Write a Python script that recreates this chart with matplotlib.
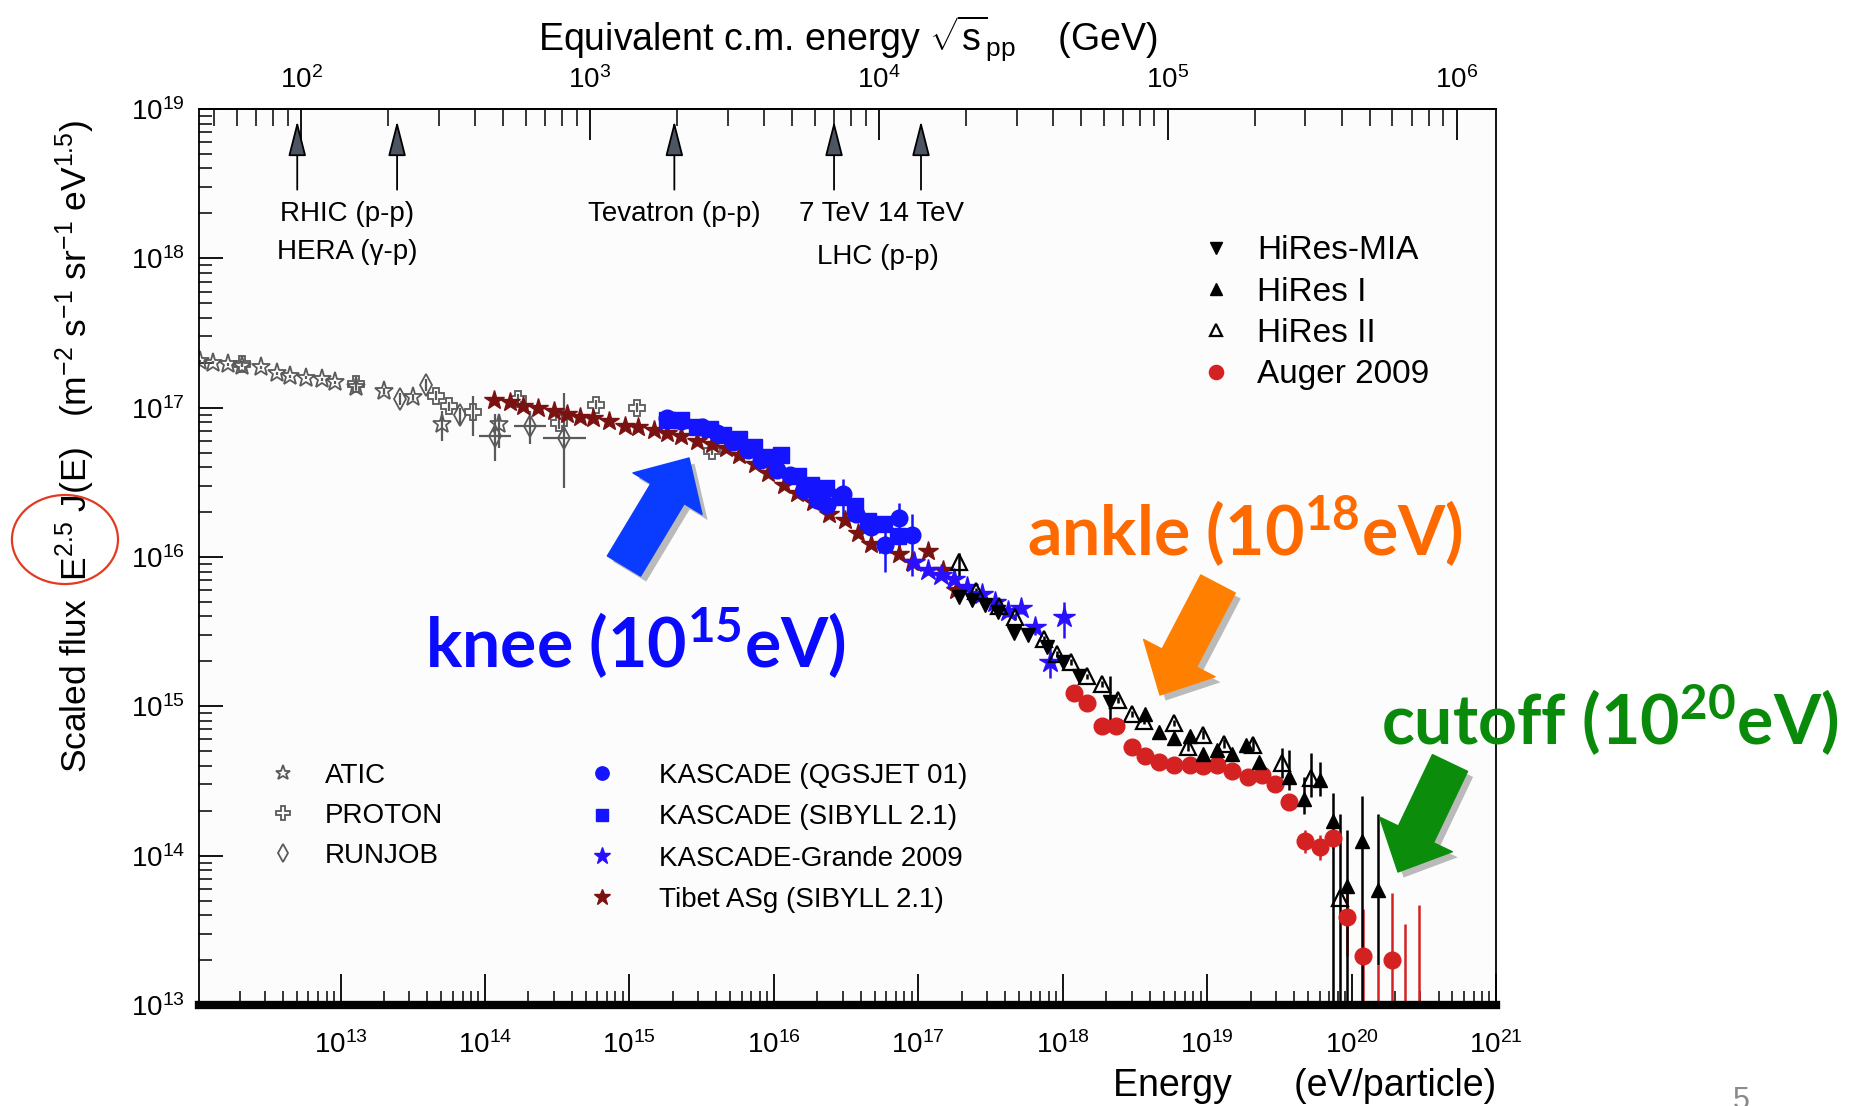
import numpy as np
import matplotlib
matplotlib.use("Agg")
import matplotlib.pyplot as plt
import matplotlib.patheffects as pe
from matplotlib.patches import Ellipse
from matplotlib.ticker import LogLocator, NullFormatter

plt.rcParams['font.family'] = ['Liberation Sans', 'DejaVu Sans']
plt.rcParams['mathtext.fontset'] = 'custom'
plt.rcParams['mathtext.rm'] = 'Liberation Sans'
plt.rcParams['mathtext.it'] = 'Liberation Sans:italic'
plt.rcParams['mathtext.bf'] = 'Liberation Sans:bold'

# ---- data: log10(E / eV) and log10(scaled flux), errors in dex ----
atic_logE = [12.03, 12.12, 12.22, 12.32, 12.45, 12.56, 12.65, 12.76, 12.87, 12.96, 13.11, 13.30, 13.50, 13.70, 14.10]
atic_logF = [17.31, 17.30, 17.29, 17.28, 17.27, 17.23, 17.21, 17.20, 17.19, 17.17, 17.14, 17.11, 17.07, 16.89, 16.89]
atic_dhi = [0.01, 0.01, 0.01, 0.01, 0.01, 0.01, 0.01, 0.01, 0.01, 0.01, 0.02, 0.02, 0.02, 0.09, 0.07]
atic_dlo = [0.01, 0.01, 0.01, 0.01, 0.01, 0.01, 0.01, 0.01, 0.01, 0.01, 0.02, 0.02, 0.02, 0.11, 0.16]

proton_logE = [12.32, 13.11, 13.66, 13.75, 13.92, 14.23, 14.51, 14.77, 15.05, 15.57]
proton_logF = [17.29, 17.16, 17.08, 17.01, 16.97, 17.06, 16.90, 17.02, 17.00, 16.71]
proton_dhi = [0.02, 0.02, 0.03, 0.03, 0.11, 0.03, 0.04, 0.03, 0.03, 0.03]
proton_dlo = [0.02, 0.02, 0.03, 0.03, 0.16, 0.03, 0.04, 0.03, 0.03, 0.03]

runjob_logE = [13.41, 13.59, 13.83, 14.07, 14.31, 14.55]
runjob_logF = [17.06, 17.15, 16.95, 16.81, 16.88, 16.80]
runjob_dhi = [0.04, 0.04, 0.05, 0.15, 0.10, 0.30]
runjob_dlo = [0.04, 0.04, 0.06, 0.17, 0.12, 0.34]
runjob_dE = [0.0, 0.0, 0.0, 0.11, 0.11, 0.15]

tibet_logE = [14.06, 14.17, 14.26, 14.37, 14.48, 14.57, 14.66, 14.75, 14.86, 14.97, 15.06,
              15.17, 15.26, 15.36, 15.47, 15.57, 15.67, 15.76, 15.87, 15.96, 16.07, 16.16,
              16.27, 16.38, 16.49, 16.58, 16.67, 16.77, 16.87, 16.96, 17.07, 17.17, 17.26]
tibet_logF = [17.05, 17.04, 17.01, 17.00, 16.98, 16.96, 16.94, 16.93, 16.91, 16.88, 16.87,
              16.85, 16.83, 16.81, 16.78, 16.76, 16.73, 16.68, 16.62, 16.56, 16.48, 16.43,
              16.37, 16.29, 16.25, 16.16, 16.09, 16.08, 16.02, 15.97, 16.04, 15.91, 15.78]

kq_logE = [15.26, 15.36, 15.50, 15.61, 15.72, 15.82, 15.91, 16.02, 16.11, 16.21, 16.30,
           16.37, 16.48, 16.57, 16.67, 16.77, 16.87, 16.96]
kq_logF = [16.93, 16.91, 16.87, 16.83, 16.77, 16.72, 16.65, 16.58, 16.55, 16.45, 16.38,
           16.35, 16.42, 16.29, 16.20, 16.08, 16.26, 16.15]
kq_dhi = [0.02, 0.02, 0.02, 0.02, 0.02, 0.02, 0.03, 0.03, 0.03, 0.04, 0.04,
          0.05, 0.10, 0.05, 0.06, 0.12, 0.10, 0.14]
kq_dlo = [0.02, 0.02, 0.02, 0.02, 0.02, 0.02, 0.03, 0.03, 0.03, 0.04, 0.04,
          0.05, 0.17, 0.05, 0.06, 0.18, 0.26, 0.28]

ks_logE = [15.26, 15.36, 15.47, 15.56, 15.65, 15.76, 15.86, 15.96, 16.05, 16.17, 16.26,
           16.36, 16.46, 16.56, 16.65, 16.76, 16.86]
ks_logF = [16.92, 16.92, 16.87, 16.86, 16.82, 16.79, 16.74, 16.67, 16.68, 16.54, 16.48,
           16.46, 16.40, 16.34, 16.24, 16.22, 16.14]

kg_logE = [16.97, 17.07, 17.16, 17.25, 17.34, 17.44, 17.53, 17.62, 17.71, 17.81, 17.91, 18.01]
kg_logF = [15.97, 15.91, 15.88, 15.85, 15.80, 15.75, 15.70, 15.64, 15.66, 15.53, 15.30, 15.60]
kg_dhi = [0.03, 0.03, 0.03, 0.03, 0.03, 0.03, 0.03, 0.04, 0.04, 0.05, 0.10, 0.10]
kg_dlo = [0.03, 0.03, 0.03, 0.03, 0.03, 0.03, 0.03, 0.04, 0.04, 0.05, 0.11, 0.14]

mia_logE = [17.28, 17.37, 17.46, 17.55, 17.66, 17.76, 17.89, 18.00, 18.11, 18.33]
mia_logF = [15.73, 15.71, 15.68, 15.63, 15.49, 15.48, 15.40, 15.30, 15.20, 15.03]
mia_dhi = [0.02, 0.02, 0.02, 0.02, 0.02, 0.02, 0.03, 0.03, 0.04, 0.17]
mia_dlo = [0.02, 0.02, 0.02, 0.02, 0.02, 0.02, 0.03, 0.03, 0.04, 0.20]

h1_logE = [18.57, 18.67, 18.77, 18.88, 18.97, 19.07, 19.17, 19.27, 19.36, 19.57, 19.67,
           19.78, 19.87, 19.97, 20.07, 20.18]
h1_logF = [14.95, 14.83, 14.79, 14.80, 14.68, 14.71, 14.68, 14.74, 14.63, 14.53, 14.38,
           14.51, 14.23, 13.80, 14.10, 13.77]
h1_dhi = [0.02, 0.02, 0.02, 0.02, 0.02, 0.02, 0.02, 0.03, 0.03, 0.18, 0.15,
          0.12, 0.19, 0.37, 0.30, 0.51]
h1_dlo = [0.02, 0.02, 0.02, 0.02, 0.02, 0.02, 0.02, 0.03, 0.03, 0.09, 0.10,
          0.11, 1.50, 1.50, 1.50, 0.50]

h2_logE = [17.28, 17.40, 17.56, 17.67, 17.87, 17.96, 18.06, 18.17, 18.27, 18.38, 18.48,
           18.56, 18.77, 18.87, 18.97, 19.12, 19.32, 19.52, 19.72, 19.92]
h2_logF = [15.97, 15.77, 15.67, 15.60, 15.45, 15.35, 15.30, 15.20, 15.15, 15.04, 14.95,
           14.90, 14.89, 14.73, 14.81, 14.75, 14.74, 14.62, 14.52, 13.72]
h2_dhi = [0.06, 0.02, 0.02, 0.02, 0.02, 0.02, 0.02, 0.02, 0.02, 0.02, 0.02,
          0.02, 0.02, 0.03, 0.03, 0.03, 0.04, 0.10, 0.17, 0.56]
h2_dlo = [0.12, 0.02, 0.02, 0.02, 0.02, 0.02, 0.02, 0.02, 0.02, 0.02, 0.02,
          0.02, 0.02, 0.03, 0.03, 0.03, 0.04, 0.10, 0.13, 1.50]

aug_logE = [18.08, 18.17, 18.27, 18.37, 18.48, 18.57, 18.67, 18.77, 18.88, 18.97, 19.07,
            19.17, 19.28, 19.38, 19.47, 19.57, 19.68, 19.78, 19.87, 19.97, 20.08, 20.28]
aug_logF = [15.09, 15.02, 14.87, 14.87, 14.73, 14.67, 14.63, 14.61, 14.61, 14.60, 14.61,
            14.57, 14.53, 14.54, 14.48, 14.36, 14.10, 14.06, 14.12, 13.59, 13.33, 13.30]
aug_dhi = [0.01, 0.01, 0.01, 0.01, 0.01, 0.01, 0.01, 0.01, 0.01, 0.01, 0.01,
           0.01, 0.01, 0.01, 0.02, 0.02, 0.07, 0.08, 0.09, 0.19, 0.31, 0.45]
aug_dlo = [0.01, 0.01, 0.01, 0.01, 0.01, 0.01, 0.01, 0.01, 0.01, 0.01, 0.01,
           0.01, 0.01, 0.01, 0.02, 0.02, 0.08, 0.09, 0.07, 0.26, 1.50, 1.50]
# Auger upper limits (bars without a point)
auglim_logE = [20.18, 20.37, 20.47]
auglim_top = [13.27, 13.54, 13.67]

# accelerator sqrt(s) in GeV
acc_sqrts = [97, 215, 1960, 7000, 14000]

M_P = 0.938  # proton mass, GeV


def e_to_sqrts(e):
    return np.sqrt(2 * M_P * np.abs(np.asarray(e, dtype=float)) / 1e9)


def sqrts_to_e(s):
    return np.asarray(s, dtype=float) ** 2 / (2 * M_P) * 1e9


fig = plt.figure(figsize=(18.51, 11.06), dpi=100)
ax = fig.add_axes([0.1075, 0.0913, 0.7007, 0.8101])
ax.set_facecolor('#fcfcfc')
ax.set_xscale('log')
ax.set_yscale('log')


def series(logE, logF, dlo=None, dhi=None, dE=None, **kw):
    lx = np.array(logE)
    ly = np.array(logF)
    x = 10.0 ** lx
    y = 10.0 ** ly
    yerr = None
    if dlo is not None:
        yerr = [y - 10.0 ** (ly - np.array(dlo)), 10.0 ** (ly + np.array(dhi)) - y]
    xerr = None
    if dE is not None:
        xerr = [x - 10.0 ** (lx - np.array(dE)), 10.0 ** (lx + np.array(dE)) - x]
    cont = ax.errorbar(x, y, yerr=yerr, xerr=xerr, linestyle='none', capsize=0, **kw)
    return cont[0]


gray = '#5a5a5a'
blue = '#1414ff'
h_atic = series(atic_logE, atic_logF, atic_dlo, atic_dhi, marker='*', ms=14, mfc='none',
                mec=gray, mew=1.3, ecolor=gray, elinewidth=1.6)
h_proton = series(proton_logE, proton_logF, proton_dlo, proton_dhi, marker='P', ms=12,
                  mfc='none', mec=gray, mew=1.3, ecolor=gray, elinewidth=1.6)
h_runjob = series(runjob_logE, runjob_logF, runjob_dlo, runjob_dhi, runjob_dE, marker='d',
                  ms=11, mfc='none', mec=gray, mew=1.3, ecolor=gray, elinewidth=1.6)
h_tibet = series(tibet_logE, tibet_logF, marker='*', ms=15, color='#7a1212', mec='#7a1212')
h_kq = series(kq_logE, kq_logF, kq_dlo, kq_dhi, marker='o', ms=12, color=blue, elinewidth=1.8)
h_ks = series(ks_logE, ks_logF, marker='s', ms=11, color=blue)
h_kg = series(kg_logE, kg_logF, kg_dlo, kg_dhi, marker='*', ms=16, color='#2a10ff',
              elinewidth=1.8)
h_mia = series(mia_logE, mia_logF, mia_dlo, mia_dhi, marker='v', ms=10, color='black',
               elinewidth=1.8)
h_h2 = series(h2_logE, h2_logF, h2_dlo, h2_dhi, marker='^', ms=11, mfc='none', mec='black',
              mew=1.6, ecolor='black', elinewidth=1.8)
h_aug = series(aug_logE, aug_logF, aug_dlo, aug_dhi, marker='o', ms=12, color='#d42222',
               elinewidth=1.8)
h_h1 = series(h1_logE, h1_logF, h1_dlo, h1_dhi, marker='^', ms=10, color='black',
              elinewidth=1.8)
ax.vlines(10.0 ** np.array(auglim_logE), 1e12, 10.0 ** np.array(auglim_top),
          color='#d42222', lw=1.8)

ax.set_xlim(10 ** 12.02, 1e21)
ax.set_ylim(1e13, 1e19)

# ticks
ax.xaxis.set_major_locator(LogLocator(base=10, numticks=20))
ax.xaxis.set_minor_locator(LogLocator(base=10, subs=np.arange(2, 10), numticks=200))
ax.xaxis.set_minor_formatter(NullFormatter())
ax.yaxis.set_major_locator(LogLocator(base=10, numticks=20))
ax.yaxis.set_minor_locator(LogLocator(base=10, subs=np.arange(2, 10), numticks=200))
ax.yaxis.set_minor_formatter(NullFormatter())
ax.tick_params(axis='x', which='major', direction='in', length=22, width=1.3,
               labelsize=20, pad=19, top=False)
ax.tick_params(axis='x', which='minor', direction='in', length=10, width=1.1, top=False)
ax.tick_params(axis='y', which='major', direction='in', length=17, width=1.3,
               labelsize=20, pad=10, right=False)
ax.tick_params(axis='y', which='minor', direction='in', length=9, width=1.1, right=False)
for s in ['left', 'right', 'top']:
    ax.spines[s].set_linewidth(1.3)
ax.spines['bottom'].set_linewidth(6)

secax = ax.secondary_xaxis('top', functions=(e_to_sqrts, sqrts_to_e))
secax.xaxis.set_major_locator(LogLocator(base=10, numticks=20))
secax.xaxis.set_minor_locator(LogLocator(base=10, subs=np.arange(2, 10), numticks=200))
secax.xaxis.set_minor_formatter(NullFormatter())
secax.tick_params(which='major', direction='in', length=22, width=1.3, labelsize=20, pad=11)
secax.tick_params(which='minor', direction='in', length=12, width=1.1)
secax.spines['top'].set_linewidth(1.3)
secax.set_xlabel(r'Equivalent c.m. energy $\sqrt{\mathdefault{s}}_{\mathdefault{pp}}$    (GeV)',
                 fontsize=27, labelpad=12)

ax.set_xlabel('Energy      (eV/particle)', fontsize=27, loc='right')
ax.xaxis.set_label_coords(1.0, -0.07)
ax.set_ylabel(r'Scaled flux  E$^{\mathdefault{2.5}}$ J(E)   (m$^{\mathdefault{-2}}$ '
              r's$^{\mathdefault{-1}}$ sr$^{\mathdefault{-1}}$ eV$^{\mathdefault{1.5}}$)',
              fontsize=25.5)
ax.yaxis.set_label_coords(-0.079, 0.624)

# accelerator arrows and labels
acc_e = sqrts_to_e(acc_sqrts)
for e in acc_e:
    ax.annotate('', xy=(e, 10 ** 18.92), xytext=(e, 10 ** 18.46),
                arrowprops=dict(arrowstyle='-|>,head_length=1.1,head_width=0.28',
                                fc='#4d5563', ec='black', lw=1.3, shrinkA=0, shrinkB=0,
                                mutation_scale=20))
ax.text(np.sqrt(acc_e[0] * acc_e[1]), 10 ** 18.30, 'RHIC (p-p)', ha='center', va='center', fontsize=20)
ax.text(np.sqrt(acc_e[0] * acc_e[1]), 10 ** 18.04, 'HERA (γ-p)', ha='center', va='center', fontsize=20)
ax.text(acc_e[2], 10 ** 18.30, 'Tevatron (p-p)', ha='center', va='center', fontsize=20)
ax.text(acc_e[3], 10 ** 18.30, '7 TeV', ha='center', va='center', fontsize=20)
ax.text(acc_e[4], 10 ** 18.30, '14 TeV', ha='center', va='center', fontsize=20)
ax.text(np.sqrt(acc_e[3] * acc_e[4]), 10 ** 18.01, 'LHC (p-p)', ha='center', va='center', fontsize=20)

# legends
leg1 = ax.legend([h_mia, h_h1, h_h2, h_aug], ['HiRes-MIA', 'HiRes I', 'HiRes II', 'Auger 2009'],
                 loc='upper left', bbox_to_anchor=(0.771, 0.859), frameon=False, fontsize=24,
                 handlelength=1.0, handletextpad=0.75, labelspacing=0.31, borderpad=0,
                 borderaxespad=0, numpoints=1, markerscale=0.85)
ax.add_artist(leg1)
leg2 = ax.legend([h_atic, h_proton, h_runjob], ['ATIC', 'PROTON', 'RUNJOB'],
                 loc='upper left', bbox_to_anchor=(0.054, 0.270), frameon=False, fontsize=20,
                 handlelength=1.0, handletextpad=1.0, labelspacing=0.50, borderpad=0,
                 borderaxespad=0, numpoints=1, markerscale=0.8)
ax.add_artist(leg2)
ax.legend([h_kq, h_ks, h_kg, h_tibet],
          ['KASCADE (QGSJET 01)', 'KASCADE (SIBYLL 2.1)', 'KASCADE-Grande 2009', 'Tibet ASg (SIBYLL 2.1)'],
          loc='upper left', bbox_to_anchor=(0.30, 0.270), frameon=False, fontsize=20,
          handlelength=1.0, handletextpad=1.55, labelspacing=0.55, borderpad=0,
          borderaxespad=0, numpoints=1, markerscale=0.8)

# big annotations
big = dict(ha='left', va='center', fontsize=49, fontweight='bold', family=['Lato', 'DejaVu Sans'])
fig.text(0.2297, 0.4186, r'knee (10$^{\mathdefault{15}}$eV)', color='#0a0aff', **big)
fig.text(0.5548, 0.5197, r'ankle (10$^{\mathdefault{18}}$eV)', color='#ff6a00', **big)
fig.text(0.7462, 0.349, r'cutoff (10$^{\mathdefault{20}}$eV)', color='#0a8a0a', **big)

shadow = [pe.SimplePatchShadow(offset=(4, -4), shadow_rgbFace='#7a7a7a', alpha=0.5), pe.Normal()]
for tip, tail, col in [((689, 648), (624, 540), '#0a3cff'),
                       ((1160, 411), (1218, 522), '#ff8000'),
                       ((1398, 234), (1450, 343), '#0b8c0b')]:
    a = ax.annotate('', xy=tip, xycoords='figure pixels', xytext=tail, textcoords='figure pixels',
                    arrowprops=dict(arrowstyle='simple,head_length=30,head_width=58,tail_width=28',
                                    mutation_scale=1, fc=col, ec=col, lw=1, shrinkA=0, shrinkB=0))
    a.arrow_patch.set_path_effects(shadow)

fig.add_artist(Ellipse((0.0351, 0.5122), 0.0573, 0.0805, transform=fig.transFigure,
                       fill=False, ec='#e33b22', lw=1.6))
fig.text(0.936, 0.018, '5', color='#8a8a8a', fontsize=22, va='top', ha='left')

fig.savefig('out.png', dpi=100)
